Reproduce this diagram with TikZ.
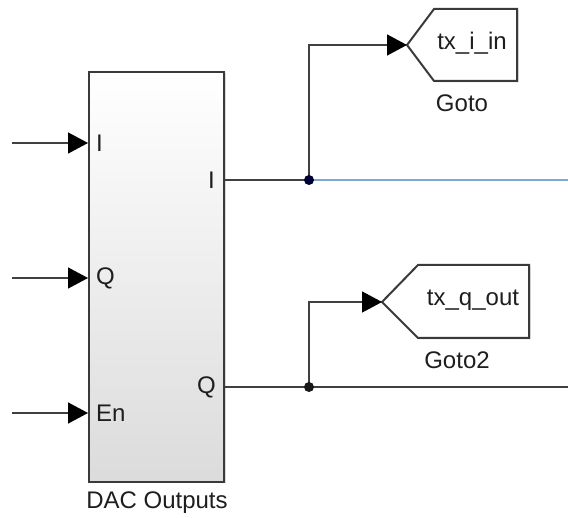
\documentclass[tikz,border=0pt]{standalone}
\usepackage{fontspec}
\setmainfont{Liberation Sans}
\usetikzlibrary{arrows.meta,shadows}
\definecolor{wirec}{HTML}{404040}
\definecolor{blockc}{HTML}{3A3A3A}
\definecolor{txtc}{HTML}{1E1E1E}
\definecolor{bluec}{HTML}{7EA9CC}
\begin{document}
\begin{tikzpicture}[x=1pt,y=-1pt,
  wire/.style={draw=wirec, line width=1.5pt},
  arr/.style={-{Triangle[length=20pt,width=21pt,fill=black,color=black]}},
  lbl/.style={font=\fontsize{24}{28}\selectfont, text=txtc, inner sep=0pt},
  blk/.style={draw=blockc, line width=2pt, fill=white,
    drop shadow={shadow xshift=1.5pt, shadow yshift=-1.5pt, opacity=0.3}},
  dot/.style={circle, fill=black!90, inner sep=0pt, minimum size=10pt}]
\useasboundingbox (0,0) rectangle (568,518);
% main block
\node[blk, top color=white, bottom color=black!14, minimum width=135pt, minimum height=410pt, inner sep=0pt] (dac) at (156.5,277) {};
\node[lbl] (daclbl) at (157,503) {DAC Outputs};
% port labels
\node[lbl, anchor=west] (pi) at (96,143) {I};
\node[lbl, anchor=west] (pq) at (96,278) {Q};
\node[lbl, anchor=west] (pen) at (96,413) {En};
\node[lbl, anchor=east] (oi) at (215,180) {I};
\node[lbl, anchor=east] (oq) at (216,387) {Q};
% input coordinates
\coordinate (sI) at (12,143);
\coordinate (sQ) at (12,278);
\coordinate (sEn) at (12,413);
\draw[wire, arr] (sI) -- (dac.west |- sI);
\draw[wire, arr] (sQ) -- (dac.west |- sQ);
\draw[wire, arr] (sEn) -- (dac.west |- sEn);
% Goto blocks
\draw[blk] (407,45) -- (434,9) -- (517,9) -- (517,81) -- (434,81) -- cycle;
\coordinate (g1tip) at (407,45);
\node[lbl] (g1txt) at (472,43) {tx\_i\_in};
\node[lbl] (g1lbl) at (462,103) {Goto};
\draw[blk] (382,302) -- (418,265) -- (529,265) -- (529,338) -- (418,338) -- cycle;
\coordinate (g2tip) at (382,302);
\node[lbl] (g2txt) at (473,300) {tx\_q\_out};
\node[lbl] (g2lbl) at (457,360) {Goto2};
% output wires
\coordinate (bI) at (309,180);
\coordinate (eI) at (568,180);
\coordinate (bQ) at (309,387);
\coordinate (eQ) at (568,387);
\draw[wire] (dac.east |- bI) -- (bI);
\draw[draw=bluec, line width=2.5pt] (bI) -- (eI);
\draw[wire, arr] (bI) |- (g1tip);
\draw[wire] (dac.east |- bQ) -- (eQ);
\draw[wire, arr] (bQ) |- (g2tip);
\node[dot, fill=black!80!blue] (dI) at (bI) {};
\node[dot] (dQ) at (bQ) {};
\end{tikzpicture}
\end{document}
